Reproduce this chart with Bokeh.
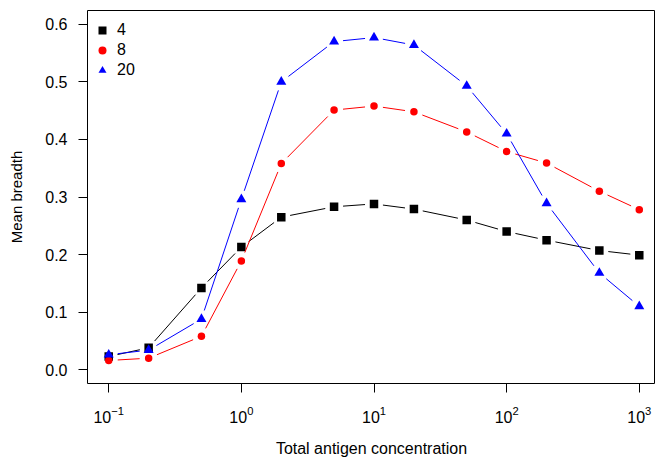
import numpy as np
from bokeh.plotting import figure
from bokeh.models import Range1d, FixedTicker, Legend, LegendItem, LogTickFormatter, NumeralTickFormatter
from bokeh.embed import file_html
from bokeh.resources import INLINE

# ---- data ----
conc = [0.1, 0.2, 0.5, 1, 2, 5, 10, 20, 50, 100, 200, 500, 1000]
breadth_4 = [0.023, 0.038, 0.142, 0.213, 0.265, 0.283, 0.288, 0.279, 0.260, 0.240, 0.225, 0.207, 0.199]
breadth_8 = [0.016, 0.020, 0.058, 0.189, 0.358, 0.451, 0.458, 0.448, 0.413, 0.379, 0.359, 0.310, 0.278]
breadth_20 = [0.026, 0.034, 0.088, 0.296, 0.500, 0.570, 0.577, 0.564, 0.493, 0.410, 0.289, 0.168, 0.110]
series_labels = ["4", "8", "20"]
colors = ["black", "red", "blue"]
markers = ["square", "circle", "triangle"]
marker_sizes = [8.5, 7.5, 10]
x_ticks = [0.1, 1, 10, 100, 1000]
y_ticks = [0.0, 0.1, 0.2, 0.3, 0.4, 0.5, 0.6]
x_title = "Total antigen concentration"
y_title = "Mean breadth"

FONT = "Liberation Sans"
FS = "16px"
W, H = 655, 460
BL, BR, BT, BB = 87, 0, 10, 77
lx0 = -1.16
lx1 = -1.16 + 4.32 * (W - BL - BR) / 573.0
y0, y1 = -0.024, 0.624

p = figure(width=W, height=H, x_axis_type="log", output_backend="svg", toolbar_location=None,
           x_range=Range1d(10 ** lx0, 10 ** lx1), y_range=Range1d(y0, y1),
           min_border_left=BL, min_border_right=BR, min_border_top=BT, min_border_bottom=BB)
p.grid.visible = False
p.outline_line_color = "black"
p.outline_line_width = 1
p.background_fill_color = "white"
p.border_fill_color = "white"

fw = W - BL - BR
fh = H - BT - BB
sx = fw / (lx1 - lx0)
sy = fh / (y1 - y0)
gap = 9.0


def gapped(xs, ys):
    lx = np.log10(np.asarray(xs, dtype=float))
    yy = np.asarray(ys, dtype=float)
    px = (lx - lx0) * sx
    py = (yy - y0) * sy
    out = {"x0": [], "y0": [], "x1": [], "y1": []}
    for i in range(len(px) - 1):
        dx = px[i + 1] - px[i]
        dy = py[i + 1] - py[i]
        L = np.hypot(dx, dy)
        if L <= 2 * gap:
            continue
        t = gap / L
        ax, ay = px[i] + dx * t, py[i] + dy * t
        bx, by = px[i + 1] - dx * t, py[i + 1] - dy * t
        out["x0"].append(10 ** (ax / sx + lx0))
        out["y0"].append(ay / sy + y0)
        out["x1"].append(10 ** (bx / sx + lx0))
        out["y1"].append(by / sy + y0)
    return out


items = []
for ys, lab, col, mk, ms in zip([breadth_4, breadth_8, breadth_20], series_labels, colors, markers, marker_sizes):
    seg = gapped(conc, ys)
    p.segment(x0=seg["x0"], y0=seg["y0"], x1=seg["x1"], y1=seg["y1"], line_color=col, line_width=1)
    r = p.scatter(x=conc, y=ys, marker=mk, size=ms, fill_color=col, line_color=None)
    items.append(LegendItem(label=lab, renderers=[r]))

legend = Legend(items=items, location=(5, fh - 4 - 66), margin=0, padding=3, glyph_width=20, glyph_height=20,
                label_height=20, spacing=0, label_standoff=5,
                label_text_font=FONT, label_text_font_size=FS, label_text_color="black",
                border_line_color=None, background_fill_alpha=0)
p.add_layout(legend)

for ax in [p.xaxis[0], p.yaxis[0]]:
    ax.axis_line_color = None
    ax.major_tick_line_color = "black"
    ax.major_tick_out = 9
    ax.major_tick_in = 0
    ax.minor_tick_line_color = None
    ax.major_label_text_font = FONT
    ax.major_label_text_font_size = FS
    ax.major_label_text_color = "black"
    ax.axis_label_text_font = FONT
    ax.axis_label_text_font_style = "normal"
    ax.axis_label_text_color = "black"

p.xaxis.ticker = FixedTicker(ticks=x_ticks, minor_ticks=[])
p.xaxis.formatter = LogTickFormatter()
p.xaxis.axis_label = x_title
p.xaxis.axis_label_text_font_size = "16px"
p.xaxis.major_label_standoff = 13
p.xaxis.axis_label_standoff = 14

p.yaxis.ticker = FixedTicker(ticks=y_ticks, minor_ticks=[])
p.yaxis.formatter = NumeralTickFormatter(format="0.0")
p.yaxis.axis_label = y_title
p.yaxis.axis_label_text_font_size = "15px"
p.yaxis.major_label_standoff = 11
p.yaxis.axis_label_standoff = 17

open("out.html", "w").write(file_html(p, INLINE))
